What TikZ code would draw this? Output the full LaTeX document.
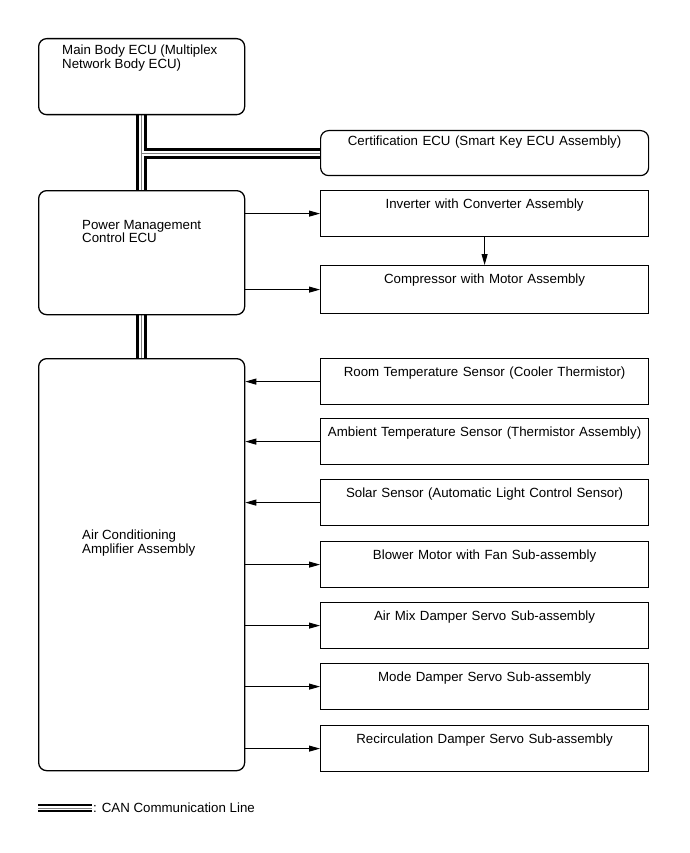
\documentclass[tikz,border=0pt]{standalone}
\usepackage{fontspec}
\setmainfont{Liberation Sans}
\usetikzlibrary{arrows.meta,backgrounds}

\tikzset{
  ecu/.style={draw, line width=1.3pt, rounded corners=8pt, inner sep=0pt,
    anchor=north west, minimum width=206pt},
  part/.style={draw, line width=1.2pt, inner sep=0pt, anchor=north west,
    minimum width=328pt, text width=328pt, align=center,
    text height=18pt, text depth=28pt},
  txt/.style={anchor=north west, inner sep=0pt, align=left},
  sig/.style={line width=0.9pt, -{Triangle[length=11pt,width=6pt]}},
}

\begin{document}
\begin{tikzpicture}[x=1pt, y=-1pt, font=\fontsize{13.3}{13.6}\selectfont]

\useasboundingbox (0,0) rectangle (689,853);

\def\xl{38};
\def\xr{320};

% left side ECUs
\node[ecu, minimum height=76pt] (mainbody) at (\xl,38) {};
\node[txt] (mainbody-t) at (62,45) {Main Body ECU (Multiplex\\Network Body ECU)};

\node[ecu, minimum height=124pt] (pmc) at (\xl,190) {};
\node[txt] (pmc-t) at (82,220) {Power Management\\Control ECU};

\node[ecu, minimum height=412pt] (ac) at (\xl,358) {};
\node[txt] (ac-t) at (82,530) {Air Conditioning\\Amplifier Assembly};

% right side parts
\node[part, rounded corners=8pt, text height=14.5pt, text depth=30.5pt] (cert) at (\xr,130) {Certification ECU (Smart Key ECU Assembly)};
\node[part] (inv) at (\xr,190) {Inverter with Converter Assembly};
\node[part, text depth=30pt] (comp) at (\xr,265) {Compressor with Motor Assembly};

\node[part] (room) at (\xr,358) {Room Temperature Sensor (Cooler Thermistor)};
\node[part] (amb) at (\xr,418) {Ambient Temperature Sensor (Thermistor Assembly)};
\node[part] (solar) at (\xr,479) {Solar Sensor (Automatic Light Control Sensor)};
\node[part] (blower) at (\xr,541) {Blower Motor with Fan Sub-assembly};
\node[part] (airmix) at (\xr,602) {Air Mix Damper Servo Sub-assembly};
\node[part] (mode) at (\xr,663) {Mode Damper Servo Sub-assembly};
\node[part] (recirc) at (\xr,725) {Recirculation Damper Servo Sub-assembly};

% CAN lines
\coordinate (leg-l) at (\xl,808);
\coordinate (leg-r) at (92,808);
\begin{pgfonlayer}{background}
\foreach \w/\v/\c in {11pt/8pt/black, 5pt/3.5pt/white, 0.8pt/0.8pt/gray} {
  \draw[line width=\w, \c] (mainbody.south) -- (pmc.north);
  \draw[line width=\w, \c] (pmc.south) -- (ac.north);
  \draw[line width=\w, \c] (mainbody.south |- cert.west) -- (cert.west);
  \draw[line width=\v, \c] (leg-l) -- (leg-r);
}
\end{pgfonlayer}
\node[anchor=west, inner sep=1pt] (canline) at (leg-r) {: CAN Communication Line};

% signals
\draw[sig] (pmc.east |- inv.west) -- (inv.west);
\draw[sig] (pmc.east |- comp.west) -- (comp.west);
\draw[sig] (inv.south) -- (comp.north);

\draw[sig] (room.west) -- (room.west -| ac.east);
\draw[sig] (amb.west) -- (amb.west -| ac.east);
\draw[sig] (solar.west) -- (solar.west -| ac.east);
\draw[sig] (ac.east |- blower.west) -- (blower.west);
\draw[sig] (ac.east |- airmix.west) -- (airmix.west);
\draw[sig] (ac.east |- mode.west) -- (mode.west);
\draw[sig] (ac.east |- recirc.west) -- (recirc.west);

\end{tikzpicture}
\end{document}
